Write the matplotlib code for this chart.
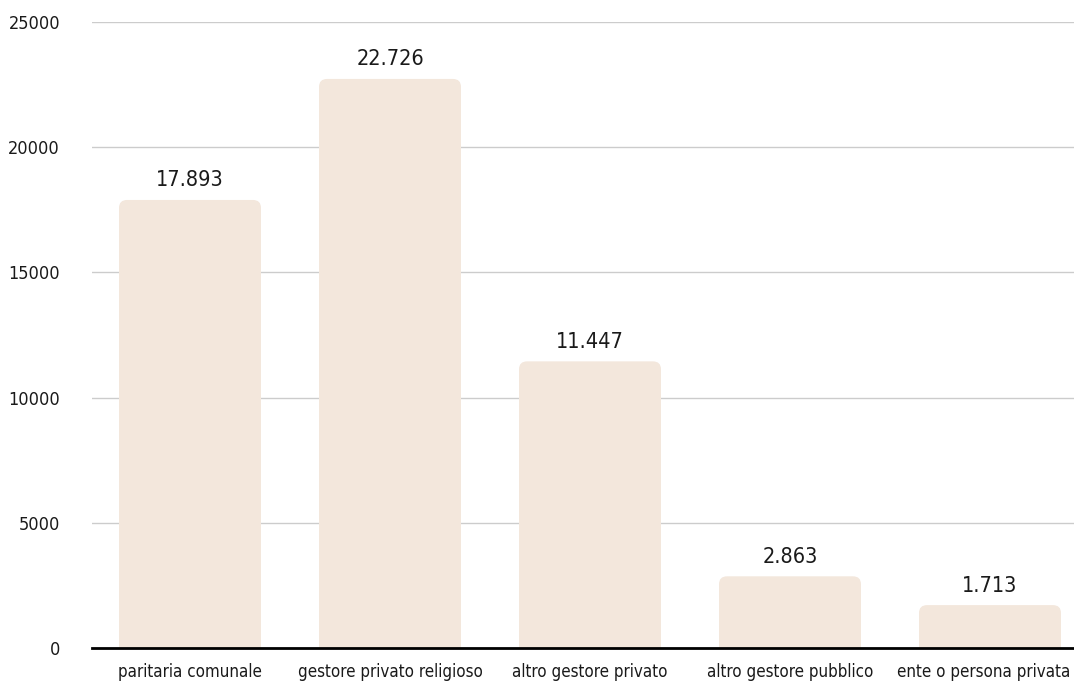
import matplotlib.pyplot as plt
import matplotlib.transforms as mtransforms
from matplotlib.patches import FancyBboxPatch

# scuole dell'infanzia paritarie per tipo di gestore
categories = ['paritaria comunale', 'gestore privato religioso', 'altro gestore privato',
              'altro gestore pubblico', 'ente o persona privata']
values = [17893, 22726, 11447, 2863, 1713]
labels = ['17.893', '22.726', '11.447', '2.863', '1.713']
yticks = [0, 5000, 10000, 15000, 20000, 25000]

BAR_COLOR = '#f3e7dc'
FONT = dict(family='DejaVu Sans', stretch='condensed')

fig = plt.figure(figsize=(10.74, 6.86), dpi=100)
ax = fig.add_axes([92 / 1074, 38 / 686, 982 / 1074, 626 / 686])
ax.set_xlim(-0.49, 4.42)
ax.set_ylim(0, 25000)

# bars with rounded top corners (bottom corners hidden below the axis)
width = 0.71
px_x = 200.0          # pixels per category
px_y = 626 / 25000.0  # pixels per unit
r = 8 / px_x
aspect = px_x / px_y
for i, v in enumerate(values):
    box = FancyBboxPatch((i - width / 2, -400), width, v + 400,
                         boxstyle=f'round,pad=0,rounding_size={r}',
                         mutation_aspect=aspect, facecolor=BAR_COLOR,
                         edgecolor='none', zorder=2)
    ax.add_patch(box)
    ax.text(i, v + 380, labels[i], ha='center', va='bottom', fontsize=15.5,
            color='#1a1a1a', **FONT)

ax.set_yticks(yticks)
ax.set_yticklabels([str(t) for t in yticks], fontsize=13, color='#1a1a1a', **FONT)
ax.set_xticks(range(len(categories)))
ax.set_xticklabels(categories, fontsize=12.2, color='#1a1a1a', **FONT)
ax.tick_params(axis='both', length=0)
ax.tick_params(axis='y', pad=23)
ax.tick_params(axis='x', pad=11)

# keep the last category label inside the figure
last = ax.get_xticklabels()[-1]
last.set_transform(last.get_transform() +
                   mtransforms.ScaledTranslation(-6 / 100, 0, fig.dpi_scale_trans))

ax.grid(axis='y', color='#cccccc', linewidth=1, zorder=0)
ax.set_axisbelow(True)
for s in ['top', 'right', 'left']:
    ax.spines[s].set_visible(False)
ax.spines['bottom'].set_color('black')
ax.spines['bottom'].set_linewidth(2)
ax.spines['bottom'].set_zorder(3)

fig.savefig('out.png', dpi=100)
